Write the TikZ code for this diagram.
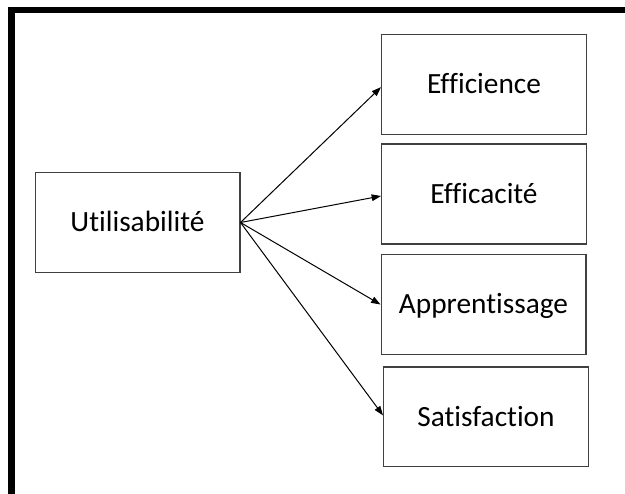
\documentclass[tikz,border=0pt]{standalone}
\usepackage{fontspec}
\setmainfont[Ligatures=NoCommon]{Carlito}
\usetikzlibrary{arrows.meta}
\definecolor{boxgray}{HTML}{404040}
\begin{document}
\begin{tikzpicture}[x=0.75pt,y=-0.75pt,
  box/.style={draw=boxgray, line width=1pt, minimum width=153.5pt, minimum height=74.8pt,
    inner sep=0pt, font=\fontsize{22}{26}\selectfont, text height=14.2pt, text depth=0pt},
  arr/.style={-{Triangle[length=7pt,width=5pt]}, line width=0.75pt, black}]
\path[use as bounding box, clip] (0,0) rectangle (625,493);
\fill[white] (0,0) rectangle (625,493);
\draw[line width=4.6pt, black] (11.5,10) rectangle (660,530);
\node[box] (u) at (137.5,222.5) {Utilisabilité};
\node[box] (e1) at (484,84.5) {Efficience};
\node[box] (e2) at (484,194) {Efficacité};
\node[box] (ap) at (483.5,304.5) {Apprentissage};
\node[box] (sa) at (486,416.7) {Satisfaction};
\draw[arr] (u.east) -- ([yshift=-2pt]e1.west);
\draw[arr] (u.east) -- ([yshift=-1.5pt]e2.west);
\draw[arr] (u.east) -- (ap.west);
\draw[arr] (u.east) -- ([yshift=1pt]sa.west);
\end{tikzpicture}
\end{document}
